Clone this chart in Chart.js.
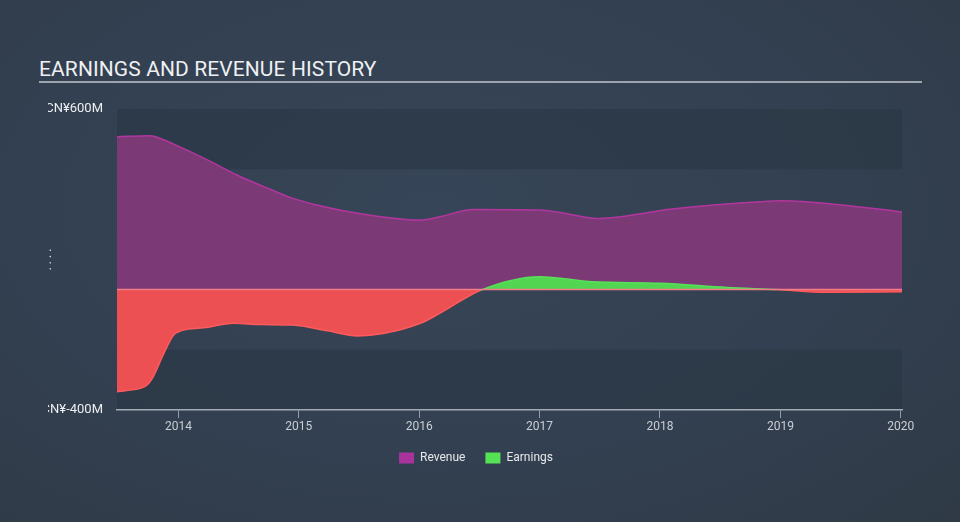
<!DOCTYPE html>
<html>
<head>
<meta charset="utf-8">
<script src="https://cdn.jsdelivr.net/npm/chart.js@4"></script>
<style>
  html, body { margin:0; padding:0; }
  body {
    width:960px; height:522px; overflow:hidden; position:relative;
    background: radial-gradient(ellipse at 45% 40%, #364557 0%, #334051 55%, #2f3a46 100%);
    font-family: Roboto, "Noto Sans", sans-serif;
  }
  #title {
    position:absolute; left:39px; top:59px; font-size:21px; line-height:21px;
    color:#eef0f2; letter-spacing:0.1px; white-space:nowrap;
  }
  #rule { position:absolute; left:39px; top:81px; width:883px; height:2px; background:#9ea4ab; }
  canvas { position:absolute; left:0; top:0; }
</style>
</head>
<body>
<div id="title">EARNINGS AND REVENUE HISTORY</div>
<div id="rule"></div>
<canvas id="c" width="960" height="522"></canvas>
<script>
// ---- data (years as decimal, values in CN¥ millions) ----
const revenueYears  = [2013.49, 2013.77, 2013.85, 2014.04, 2014.27, 2014.49, 2014.71, 2014.95, 2015.15, 2015.37, 2015.65, 2015.87, 2016.01, 2016.17, 2016.45, 2017.03, 2017.25, 2017.50, 2017.67, 2018.08, 2018.50, 2018.77, 2019.02, 2019.47, 2020.01];
const revenueValues = [508, 511, 502, 469, 425, 380, 342, 303, 281, 262, 244, 234, 231, 242, 266, 264, 250, 236, 242, 267, 283, 290, 295, 283, 258];

const earningsYears  = [2013.49, 2013.60, 2013.74, 2013.79, 2013.88, 2013.96, 2014.02, 2014.21, 2014.46, 2014.68, 2014.95, 2015.24, 2015.49, 2015.70, 2016.01, 2016.17, 2016.51, 2017.00, 2017.44, 2018.00, 2018.56, 2018.97, 2019.39, 2020.01];
const earningsValues = [-339, -334, -317, -290, -211, -151, -137, -127, -112, -116, -118, -137, -154, -146, -112, -79, -2, 43, 26, 21, 7, 0, -9, -7];

const xMin = 2013.49, xMax = 2020.01;
const yMin = -400, yMax = 600, yStep = 200;
const yTickValues = [-400, 600];
const yTickLabels = ['CN¥-400M', 'CN¥600M'];
const legendNames = ['Revenue', 'Earnings'];

const toPoints = (xs, ys) => xs.map((x, i) => ({ x: x, y: ys[i] }));

const COLORS = {
  revFill: 'rgb(123,57,118)', revLine: '#b3369f',
  earnUp: 'rgb(82,214,82)', earnDown: 'rgb(236,80,82)',
  earnUpLine: '#58e058', earnDownLine: '#ff5a5c',
  band: 'rgba(40,52,66,0.55)', zero: '#f27d88',
  legendRev: '#a8339c', legendEarn: '#55e255'
};

const framePlugin = {
  id: 'frame',
  afterLayout(chart) {
    if (chart.legend) { chart.legend.left += 25; chart.legend.right += 25; }
  },
  beforeDraw(chart) {
    const ctx = chart.ctx, a = chart.chartArea, y = chart.scales.y;
    ctx.save();
    ctx.beginPath();
    ctx.rect(48, 0, chart.width - 48, chart.height);
    ctx.clip();
    ctx.fillStyle = COLORS.band;
    for (let v = yMax; v > yMin; v -= 2 * yStep) {
      const t = y.getPixelForValue(v), b = y.getPixelForValue(v - yStep);
      ctx.fillRect(a.left, t, a.right - a.left, b - t);
    }
  },
  afterDatasetsDraw(chart) {
    const ctx = chart.ctx, a = chart.chartArea, y = chart.scales.y;
    const z = y.getPixelForValue(0);
    ctx.save();
    ctx.strokeStyle = COLORS.zero;
    ctx.lineWidth = 1.5;
    ctx.beginPath();
    ctx.moveTo(a.left, z);
    ctx.lineTo(a.right, z);
    ctx.stroke();
    ctx.restore();
  },
  afterDraw(chart) {
    chart.ctx.restore();
  }
};

new Chart(document.getElementById('c'), {
  type: 'line',
  data: {
    datasets: [
      {
        label: legendNames[0],
        data: toPoints(revenueYears, revenueValues),
        borderColor: COLORS.revLine,
        backgroundColor: COLORS.revFill,
        borderWidth: 1.5,
        fill: 'origin',
        pointRadius: 0,
        cubicInterpolationMode: 'monotone',
        order: 2
      },
      {
        label: legendNames[1],
        data: toPoints(earningsYears, earningsValues),
        borderWidth: 1.5,
        borderColor: COLORS.earnDownLine,
        segment: {
          borderColor: ctx => ((ctx.p0.parsed.y + ctx.p1.parsed.y) / 2 >= 0 ? COLORS.earnUpLine : COLORS.earnDownLine)
        },
        fill: { target: 'origin', above: COLORS.earnUp, below: COLORS.earnDown },
        pointRadius: 0,
        cubicInterpolationMode: 'monotone',
        order: 1
      }
    ]
  },
  options: {
    responsive: false,
    animation: false,
    devicePixelRatio: 1,
    layout: { padding: { top: 109, left: 0, right: 58, bottom: 48 } },
    plugins: {
      tooltip: { enabled: false },
      title: { display: false },
      legend: {
        position: 'bottom',
        labels: {
          color: '#e6e8ea',
          font: { family: 'Roboto', size: 12 },
          boxWidth: 15, boxHeight: 11, padding: 20,
          generateLabels: () => [
            { text: legendNames[0], fillStyle: COLORS.legendRev, strokeStyle: COLORS.legendRev, lineWidth: 0, fontColor: '#e6e8ea', datasetIndex: 0 },
            { text: legendNames[1], fillStyle: COLORS.legendEarn, strokeStyle: COLORS.legendEarn, lineWidth: 0, fontColor: '#e6e8ea', datasetIndex: 1 }
          ]
        }
      }
    },
    scales: {
      x: {
        type: 'linear',
        min: xMin, max: xMax,
        afterFit: s => { s.height = 22; },
        ticks: {
          stepSize: 1, includeBounds: false,
          callback: v => String(v),
          color: '#c9ced4',
          font: { family: 'Roboto', size: 12 },
          padding: 2,
          maxRotation: 0
        },
        grid: { display: true, drawOnChartArea: false, drawTicks: true, tickLength: 8, color: 'rgba(170,180,190,0.8)', lineWidth: 1 },
        border: { display: true, color: '#a2aab3', width: 1.5 }
      },
      y: {
        type: 'linear',
        min: yMin, max: yMax,
        afterFit: s => { s.width = 117; },
        ticks: {
          stepSize: yStep,
          autoSkip: false,
          callback: v => { const i = yTickValues.indexOf(v); return i >= 0 ? yTickLabels[i] : ''; },
          color: '#eceef0',
          font: { family: 'Roboto', size: 13 },
          padding: 14
        },
        title: { display: true, text: '. . . .', color: '#dfe2e5', font: { family: 'Roboto', size: 12 }, padding: { top: 41, bottom: 0 } },
        grid: { display: false, drawTicks: false },
        border: { display: false }
      }
    }
  },
  plugins: [framePlugin]
});
</script>
</body>
</html>
